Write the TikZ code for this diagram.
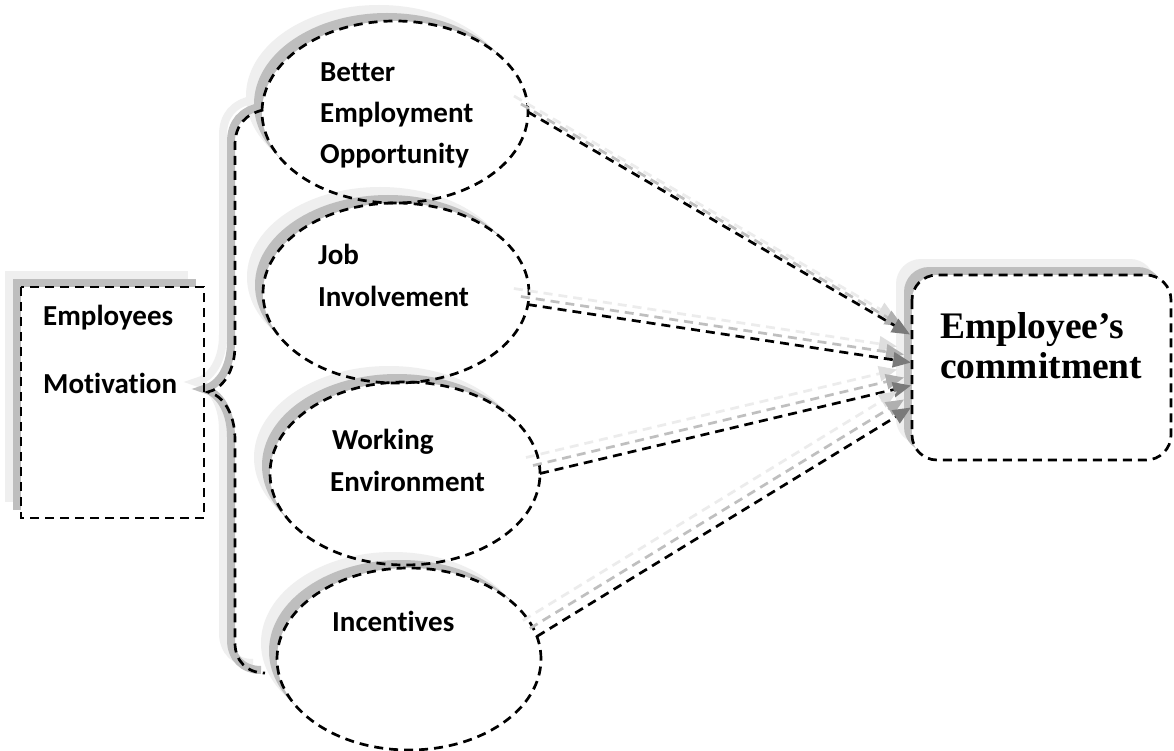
\documentclass[tikz,border=0pt]{standalone}
\usepackage{fontspec}
\newfontfamily\calfont[Ligatures=NoCommon]{Carlito}
\newfontfamily\timesfont{Liberation Serif}
\usetikzlibrary{shapes.geometric,shadows,calc,arrows.meta}
\definecolor{shlight}{HTML}{EFEFEF}
\definecolor{shdark}{HTML}{BEBEBE}
\definecolor{headk}{HTML}{7A7A7A}
\definecolor{headm}{HTML}{B0B0B0}
\definecolor{headl}{HTML}{DEDEDE}
\definecolor{linem}{HTML}{BFBFBF}
\definecolor{linel}{HTML}{ECECEC}
\tikzset{
  shd/.style={general shadow={shadow xshift=-16pt,shadow yshift=16pt,fill=shlight},
              general shadow={shadow xshift=-8pt,shadow yshift=8pt,fill=shdark},
              fill=white, draw=none, inner sep=0pt, outer sep=0pt},
  ellnode/.style={shd, shape=ellipse},
  boxnode/.style={shd, shape=rectangle},
  dsh/.style={draw=black, line width=2.7pt, dash pattern=on 9pt off 6pt},
  lbl/.style={inner sep=0pt, font=\calfont\bfseries\fontsize{29}{34}\selectfont},
  tlbl/.style={inner sep=0pt, font=\timesfont\bfseries\fontsize{37.5}{41}\selectfont},
  arrk/.style={draw=black, line width=2.7pt, dash pattern=on 9pt off 6pt,
               -{Triangle[length=18pt,width=15pt,color=headk]}},
  arrm/.style={draw=linem, line width=2.7pt, dash pattern=on 9pt off 6pt,
               -{Triangle[length=18pt,width=15pt,color=headm]}},
  arrl/.style={draw=linel, line width=2.7pt, dash pattern=on 9pt off 6pt,
               -{Triangle[length=18pt,width=15pt,color=headl]}},
}
\newcommand\shadarrow[2]{%
  \draw[arrl] ($(#1)+(-14,-16)$) -- ($(#2)+(-14,-16)$);
  \draw[arrm] ($(#1)+(-7,-8)$) -- ($(#2)+(-7,-8)$);
  \draw[arrk] (#1) -- (#2);}
\begin{document}
\begin{tikzpicture}[x=1pt,y=-1pt]
\useasboundingbox[fill=white] (0,0) rectangle (1174,751);
% filled shapes with shadows
\node[boxnode, minimum width=183pt, minimum height=231pt] (lb) at (112.5,402.5) {};
\node[boxnode, rounded corners=25pt, minimum width=259pt, minimum height=185pt] (rc) at (1041.5,367.5) {};
\node[ellnode, minimum width=266pt, minimum height=182pt] (e1) at (395,112) {};
\node[ellnode, minimum width=266pt, minimum height=180pt] (e2) at (396,293) {};
\node[ellnode, minimum width=270pt, minimum height=183pt] (e3) at (405,473.5) {};
\node[ellnode, minimum width=264pt, minimum height=182pt] (e4) at (409,659) {};
% brace
\def\bracepath{(263,110) .. controls (246,114) and (235,125) .. (235,145) -- (235,345)
  .. controls (235,372) and (222,389) .. (208,392)
  .. controls (222,395) and (235,412) .. (235,440) -- (235,643)
  .. controls (235,661) and (247,673) .. (265,673)}
\draw[shlight, line width=8pt, shift={(-12,-10)}] \bracepath;
\draw[shdark, line width=8pt, shift={(-4,-3)}] \bracepath;
\draw[dsh] \bracepath;
% outlines
\draw[dsh] (lb.north west) rectangle (lb.south east);
\draw[dsh, rounded corners=25pt] (rc.north west) rectangle (rc.south east);
\draw[dsh] (e1.center) ellipse [x radius=133pt, y radius=91pt];
\draw[dsh] (e2.center) ellipse [x radius=133pt, y radius=90pt];
\draw[dsh] (e3.center) ellipse [x radius=135pt, y radius=91.5pt];
\draw[dsh] (e4.center) ellipse [x radius=132pt, y radius=91pt];
% texts
\node[lbl, anchor=base west] (t1a) at (320,82) {Better};
\node[lbl, anchor=base west] (t1b) at (320,123) {Employment};
\node[lbl, anchor=base west] (t1c) at (320,164) {Opportunity};
\node[lbl, anchor=base west] (t2a) at (318,265) {Job};
\node[lbl, anchor=base west] (t2b) at (318,306) {Involvement};
\node[lbl, anchor=base west] (t3a) at (332,449) {Working};
\node[lbl, anchor=base west] (t3b) at (330,491) {Environment};
\node[lbl, anchor=base west] (t4a) at (332,631) {Incentives};
\node[lbl, anchor=base west] (l1) at (43,325) {Employees};
\node[lbl, anchor=base west] (l2) at (43,393) {Motivation};
\node[tlbl, anchor=base west] (r1) at (940,338) {Employee’s};
\node[tlbl, anchor=base west] (r2) at (940,378) {commitment};
% arrows
\coordinate (p1) at ($(rc.west)+(-2,-33)$);
\coordinate (p2) at ($(rc.west)+(-1,-5)$);
\coordinate (p3) at ($(rc.west)+(-1,18)$);
\coordinate (p4) at ($(rc.west)+(-1,40)$);
\shadarrow{e1.east}{p1}
\shadarrow{e2.-5}{p2}
\shadarrow{e3.east}{p3}
\shadarrow{e4.10}{p4}
\end{tikzpicture}
\end{document}
